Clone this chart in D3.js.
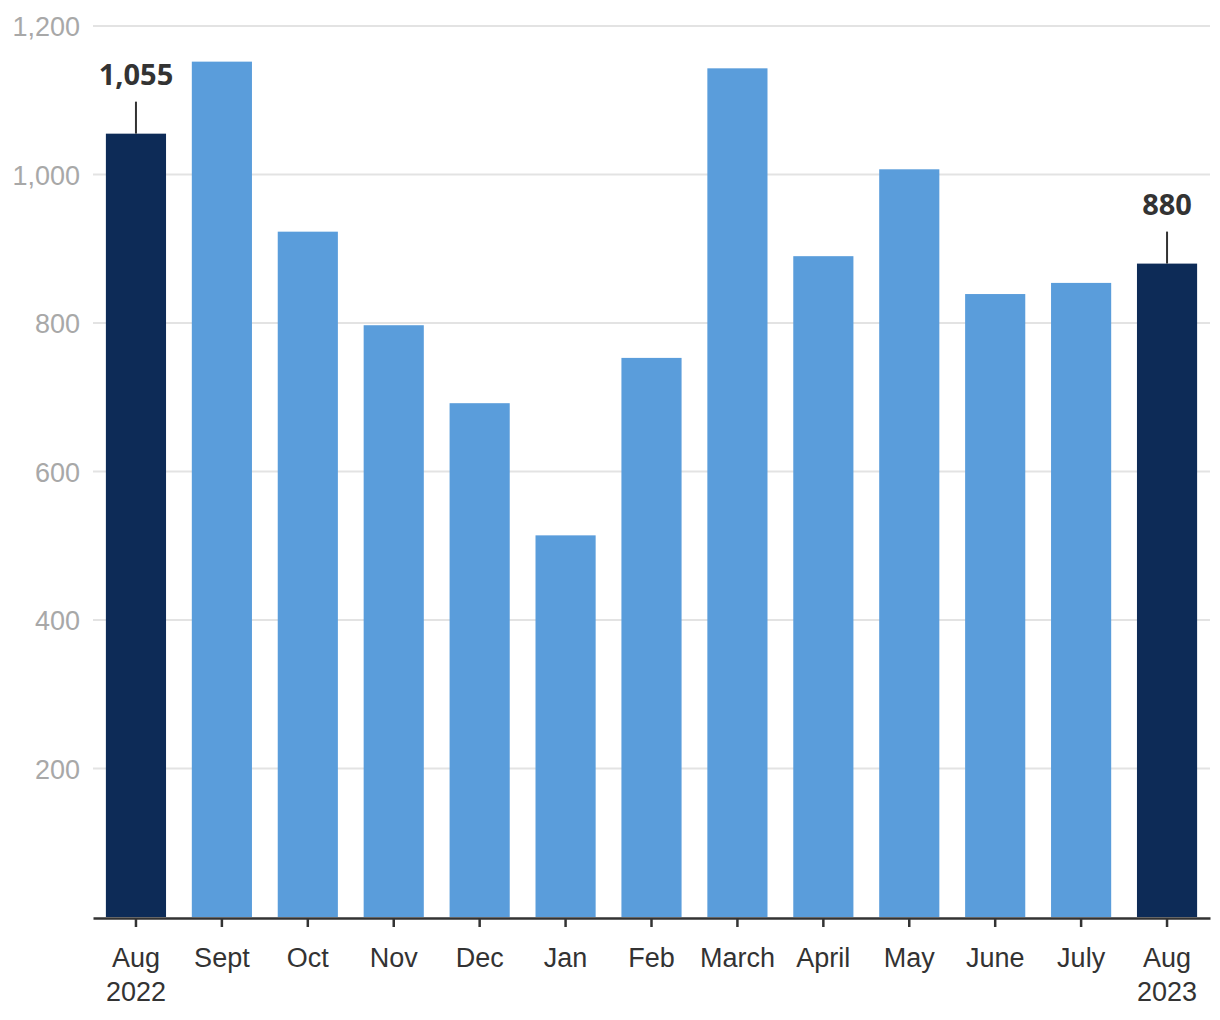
<!DOCTYPE html>
<meta charset="utf-8">
<style>
body { margin: 0; background: #fff; }
svg { display: block; font-family: "Noto Sans", "Open Sans", sans-serif; }
.grid line { stroke: #e3e3e3; stroke-width: 2; }
.axis--y text { fill: #a8a8a8; font-size: 27px; }
.axis--x text { fill: #333; font-size: 27px; }
.axis--x line, .axis--x path { stroke: #333; stroke-width: 2.5; }
.note { fill: #333; font-size: 29px; font-weight: bold; }
</style>
<svg width="1220" height="1020"></svg>
<script src="https://d3js.org/d3.v7.min.js"></script>
<script>

// months, first and last are highlighted
var months = ["Aug|2022", "Sept", "Oct", "Nov", "Dec", "Jan", "Feb", "March", "April", "May", "June", "July", "Aug|2023"];
var values = [1055, 1152, 923, 797, 692, 514, 753, 1143, 890, 1007, 839, 854, 880];
var highlight = [true, false, false, false, false, false, false, false, false, false, false, false, true];
var yTicks = [200, 400, 600, 800, 1000, 1200];

var svg = d3.select("svg"),
    plotLeft = 93, plotRight = 1210, plotTop = 26, plotBottom = 917;

var x = d3.scaleBand().domain(months).range([plotLeft, plotRight]).paddingInner(0.3).paddingOuter(0.15);
var y = d3.scaleLinear().domain([0, 1200]).range([plotBottom, plotTop]);

// gridlines
svg.append("g")
    .attr("class", "grid")
  .selectAll("line")
  .data(yTicks)
  .enter().append("line")
    .attr("x1", plotLeft)
    .attr("x2", plotRight)
    .attr("y1", function(d) { return y(d); })
    .attr("y2", function(d) { return y(d); });

// y labels, no axis line
var ya = svg.append("g")
    .attr("class", "axis axis--y")
    .attr("transform", "translate(" + (plotLeft - 13) + ",0)")
    .call(d3.axisLeft(y).tickValues(yTicks).tickSize(0).tickPadding(0).tickFormat(d3.format(",")));
ya.select(".domain").remove();
ya.selectAll("text").attr("dy", "0.36em");

// bars
svg.selectAll(".bar")
  .data(values)
  .enter().append("rect")
    .attr("class", "bar")
    .attr("x", function(d, i) { return x(months[i]); })
    .attr("y", function(d) { return y(d); })
    .attr("width", x.bandwidth())
    .attr("height", function(d) { return y(0) - y(d); })
    .attr("fill", function(d, i) { return highlight[i] ? "#0d2b57" : "#5a9ddb"; });

// x axis
var xa = svg.append("g")
    .attr("class", "axis axis--x")
    .attr("transform", "translate(0," + (plotBottom + 1) + ")")
    .call(d3.axisBottom(x).tickSizeInner(9).tickSizeOuter(0).tickFormat(""));

xa.selectAll(".tick text").remove();
xa.selectAll(".tick").append("text")
    .attr("y", 49)
    .attr("text-anchor", "middle")
    .each(function(d) {
      var parts = d.split("|"), t = d3.select(this);
      parts.forEach(function(p, k) {
        t.append("tspan").attr("x", 0).attr("dy", k ? 34 : 0).text(p);
      });
    });

// value notes on highlighted bars
var notes = values.map(function(v, i) { return {v: v, m: months[i]}; })
    .filter(function(d, i) { return highlight[i]; });

notes.forEach(function(d) {
  var cx = x(d.m) + x.bandwidth() / 2;
  svg.append("line")
      .attr("x1", cx).attr("x2", cx)
      .attr("y1", y(d.v) - 32).attr("y2", y(d.v))
      .attr("stroke", "#333").attr("stroke-width", 2);
  svg.append("text")
      .attr("class", "note")
      .attr("x", cx)
      .attr("y", y(d.v) - 49)
      .attr("text-anchor", "middle")
      .text(d3.format(",")(d.v));
});

</script>
